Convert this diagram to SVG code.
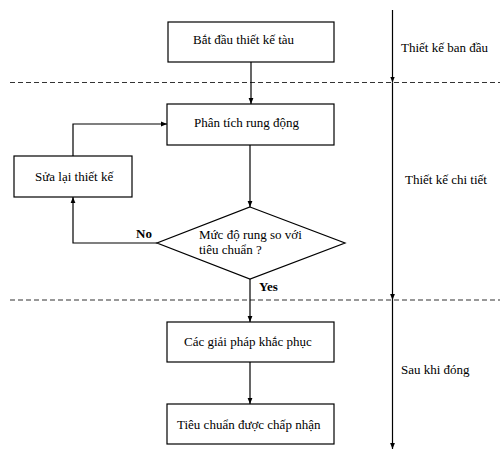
<svg xmlns="http://www.w3.org/2000/svg" width="500" height="450" viewBox="0 0 500 450">
<style>
.box{fill:#fff;stroke:#000;stroke-width:1.2}
.t{font-family:"Liberation Serif","Times New Roman",serif;font-size:13px;fill:#000}
.b{font-weight:bold}
.ln{fill:none;stroke:#000;stroke-width:1.2}
.dash{fill:none;stroke:#333;stroke-width:1.2;stroke-dasharray:5,3}
</style>
<defs>
<marker id="ah" viewBox="0 0 10 10" refX="10" refY="5" markerWidth="6" markerHeight="6" orient="auto" markerUnits="userSpaceOnUse">
<path d="M0,1 L10,5 L0,9 Z" fill="#000"/>
</marker>
</defs>
<rect width="500" height="450" fill="#fff"/>
<g id="separators">
<line class="dash" x1="10" y1="82.5" x2="500" y2="82.5"/>
<line class="dash" x1="10" y1="300" x2="500" y2="300"/>
</g>
<g id="connectors">
<line class="ln" x1="251" y1="62" x2="251" y2="104" marker-end="url(#ah)"/>
<line class="ln" x1="250" y1="145" x2="250" y2="207" marker-end="url(#ah)"/>
<polyline class="ln" points="157,243 73,243 73,197" marker-end="url(#ah)"/>
<polyline class="ln" points="73,156 73,124 167,124" marker-end="url(#ah)"/>
<line class="ln" x1="250" y1="279" x2="250" y2="322" marker-end="url(#ah)"/>
<line class="ln" x1="250" y1="362" x2="250" y2="404" marker-end="url(#ah)"/>
<line class="ln" x1="392.5" y1="10" x2="392.5" y2="82.5" marker-end="url(#ah)"/>
<line class="ln" x1="392.5" y1="82.5" x2="392.5" y2="300" marker-end="url(#ah)"/>
<line class="ln" x1="392.5" y1="300" x2="392.5" y2="449" marker-end="url(#ah)"/>
<text class="t b" x="136" y="238">No</text>
<text class="t b" x="259" y="291">Yes</text>
</g>
<g id="start">
<rect class="box" x="168" y="22" width="166" height="40"/>
<text class="t" x="193" y="44">Bắt đầu thiết kế tàu</text>
</g>
<g id="analysis">
<rect class="box" x="167" y="104" width="167" height="41"/>
<text class="t" x="194" y="127">Phân tích rung động</text>
</g>
<g id="revise">
<rect class="box" x="14" y="156" width="118" height="41"/>
<text class="t" x="35" y="181">Sửa lại thiết kế</text>
</g>
<g id="decision">
<polygon class="box" points="250,207 345,243 250,279 157,243"/>
<text class="t" x="199" y="239">Mức độ rung so với</text>
<text class="t" x="199" y="254">tiêu chuẩn ?</text>
</g>
<g id="solutions">
<rect class="box" x="167" y="322" width="167" height="40"/>
<text class="t" x="184" y="346">Các giải pháp khắc phục</text>
</g>
<g id="accepted">
<rect class="box" x="167" y="404" width="167" height="40"/>
<text class="t" x="177" y="429">Tiêu chuẩn được chấp nhận</text>
</g>
<g id="phase-labels">
<text class="t" x="401" y="52">Thiết kế ban đầu</text>
<text class="t" x="405" y="184">Thiết kế chi tiết</text>
<text class="t" x="401" y="374">Sau khi đóng</text>
</g>
</svg>
